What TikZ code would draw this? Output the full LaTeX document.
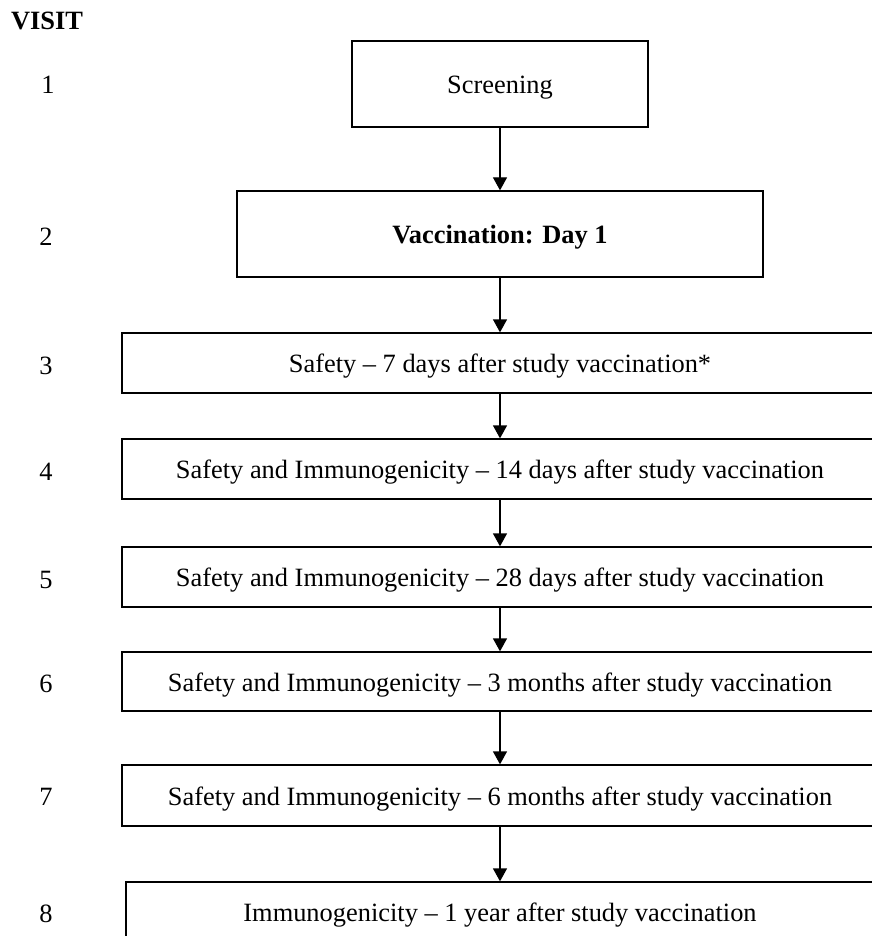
\documentclass[tikz,border=0pt]{standalone}
\usepackage{fontspec}
\setmainfont{Liberation Serif}
\usetikzlibrary{arrows.meta}
\tikzset{>={Triangle[length=13pt,width=14pt]}}
\tikzset{
  stepbox/.style={draw,line width=1.3pt,inner sep=0pt,minimum width=756pt,minimum height=60pt,
    text height=19pt,text depth=0pt,font=\fontsize{26.4}{31}\selectfont},
  visitnum/.style={inner sep=0pt,font=\fontsize{26.4}{31}\selectfont},
  flow/.style={->,line width=1.3pt}
}

\begin{document}
\begin{tikzpicture}[x=1pt,y=-1pt]
      \useasboundingbox (0,0) rectangle (871,936);
      % visit numbers on the left
      \node[visitnum] (visit) at (47,21) {\bfseries VISIT};
      \node[visitnum] (n1) at (48,85) {1};
      \node[visitnum] (n2) at (46,237) {2};
      \node[visitnum] (n3) at (46,366) {3};
      \node[visitnum] (n4) at (46,472) {4};
      \node[visitnum] (n5) at (46,580) {5};
      \node[visitnum] (n6) at (46,684) {6};
      \node[visitnum] (n7) at (46,797) {7};
      \node[visitnum] (n8) at (46,914) {8};
      % the boxes
      \node[stepbox,minimum width=296pt,minimum height=86pt] (scr) at (500,84) {Screening};
      \node[stepbox,minimum width=526pt,minimum height=86pt] (vac) at (500,234) {\bfseries Vaccination: Day 1};
      \node[stepbox] (s3) at (500,363) {Safety -- 7 days after study vaccination*};
      \node[stepbox] (s4) at (500,469) {Safety and Immunogenicity -- 14 days after study vaccination};
      \node[stepbox] (s5) at (500,577) {Safety and Immunogenicity -- 28 days after study vaccination};
      \node[stepbox,minimum height=59pt] (s6) at (500,681.5) {Safety and Immunogenicity -- 3 months after study vaccination};
      \node[stepbox,minimum height=61pt] (s7) at (500,795.5) {Safety and Immunogenicity -- 6 months after study vaccination};
      \node[stepbox,minimum width=748pt] (s8) at (500,912) {Immunogenicity -- 1 year after study vaccination};
      % arrows
      \draw[flow] (scr) -- (vac);
      \draw[flow] (vac) -- (s3);
      \draw[flow] (s3) -- (s4);
      \draw[flow] (s4) -- (s5);
      \draw[flow] (s5) -- (s6);
      \draw[flow] (s6) -- (s7);
      \draw[flow] (s7) -- (s8);
    \end{tikzpicture}
\end{document}
